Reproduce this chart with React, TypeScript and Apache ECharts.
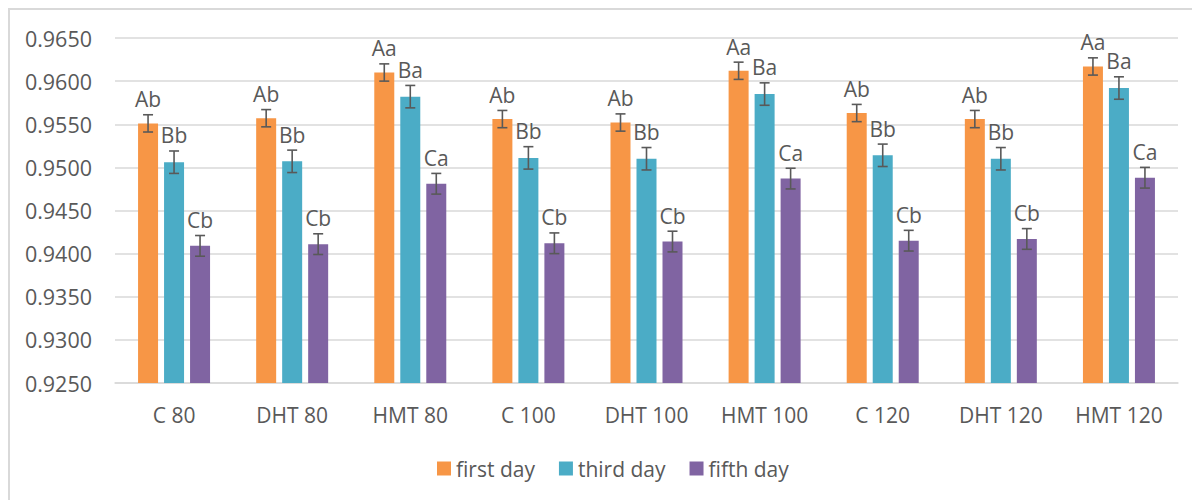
import React, { useEffect, useRef } from "react";
import * as echarts from "echarts";

const categories = ["C 80", "DHT 80", "HMT 80", "C 100", "DHT 100", "HMT 100", "C 120", "DHT 120", "HMT 120"];
const seriesNames = ["first day", "third day", "fifth day"];
const firstDay = [0.9551, 0.9557, 0.9610, 0.9556, 0.9552, 0.9612, 0.9563, 0.9556, 0.9617];
const thirdDay = [0.9506, 0.9507, 0.9582, 0.9511, 0.9510, 0.9585, 0.9514, 0.9510, 0.9592];
const fifthDay = [0.9409, 0.9411, 0.9481, 0.9412, 0.9414, 0.9487, 0.9415, 0.9417, 0.9488];
const firstErr = [0.0010, 0.0010, 0.0010, 0.0010, 0.0010, 0.0010, 0.0010, 0.0010, 0.0010];
const thirdErr = [0.0013, 0.0013, 0.0013, 0.0013, 0.0013, 0.0013, 0.0013, 0.0013, 0.0013];
const fifthErr = [0.0012, 0.0012, 0.0012, 0.0012, 0.0012, 0.0012, 0.0012, 0.0012, 0.0012];
const firstLabels = ["Ab", "Ab", "Aa", "Ab", "Ab", "Aa", "Ab", "Ab", "Aa"];
const thirdLabels = ["Bb", "Bb", "Ba", "Bb", "Bb", "Ba", "Bb", "Bb", "Ba"];
const fifthLabels = ["Cb", "Cb", "Ca", "Cb", "Cb", "Ca", "Cb", "Cb", "Ca"];

const colors = ["#F79646", "#4BACC6", "#8064A2"];
const FONT = "'Open Sans', 'Noto Sans', sans-serif";
const TXT = "#595959";

export default function App() {
  const ref = useRef<HTMLDivElement>(null);
  useEffect(() => {
    if (!ref.current) return;
    const chart = echarts.init(ref.current, undefined, { renderer: "svg" });
    const values = [firstDay, thirdDay, fifthDay];
    const errs = [firstErr, thirdErr, fifthErr];
    const labels = [firstLabels, thirdLabels, fifthLabels];
    const BW = 20;
    const GAP = 6;

    const barSeries = values.map((v, s) => ({
      name: seriesNames[s],
      type: "bar",
      data: v,
      barWidth: BW,
      barGap: "30%",
      itemStyle: { color: colors[s] },
      z: 2,
    }));

    const errSeries = values.map((v, s) => ({
      name: "err" + s,
      type: "custom",
      z: 5,
      data: v.map((val, i) => [i, val, errs[s][i]]),
      encode: { x: 0, y: 1 },
      renderItem: (params: any, api: any) => {
        const idx = api.value(0);
        const val = api.value(1);
        const e = api.value(2);
        const offset = (s - 1) * (BW + GAP);
        const x = api.coord([idx, val])[0] + offset;
        const yTop = api.coord([idx, val + e])[1];
        const yBot = api.coord([idx, val - e])[1];
        const st = { stroke: "#595959", lineWidth: 1.6 };
        return {
          type: "group",
          children: [
            { type: "line", shape: { x1: x, y1: yTop, x2: x, y2: yBot }, style: st },
            { type: "line", shape: { x1: x - 5, y1: yTop, x2: x + 5, y2: yTop }, style: st },
            { type: "line", shape: { x1: x - 5, y1: yBot, x2: x + 5, y2: yBot }, style: st },
            {
              type: "text",
              x: x,
              y: yTop - 5,
              style: {
                text: labels[s][params.dataIndex],
                fill: TXT,
                font: `21px ${FONT}`,
                align: "center",
                verticalAlign: "bottom",
              },
            },
          ],
        };
      },
    }));

    chart.setOption({
      animation: false,
      textStyle: { fontFamily: FONT },
      grid: { left: 107, right: 22, top: 30, bottom: 117 },
      graphic: [
        { type: "line", shape: { x1: 1, y1: 0, x2: 1, y2: 492 }, style: { stroke: "#d9d9d9", lineWidth: 2 } },
        { type: "line", shape: { x1: 0, y1: 1, x2: 1192, y2: 1 }, style: { stroke: "#d9d9d9", lineWidth: 2 } },
      ],
      legend: {
        data: seriesNames,
        left: 424,
        top: 445,
        itemWidth: 14,
        itemHeight: 14,
        itemGap: 24,
        icon: "rect",
        textStyle: { color: TXT, fontSize: 21, fontFamily: FONT },
      },
      xAxis: {
        type: "category",
        data: categories,
        axisLine: { lineStyle: { color: "#d9d9d9", width: 1.5 } },
        axisTick: { show: false },
        axisLabel: { color: TXT, fontSize: 21, fontFamily: FONT, margin: 21 },
      },
      yAxis: {
        type: "value",
        min: 0.925,
        max: 0.965,
        interval: 0.005,
        axisLine: { show: false },
        axisTick: { show: false },
        splitLine: { lineStyle: { color: "#d9d9d9", width: 1.5 } },
        axisLabel: {
          color: TXT,
          fontSize: 21.5,
          fontFamily: FONT,
          margin: 23,
          formatter: (v: number) => v.toFixed(4),
        },
      },
      series: [...barSeries, ...errSeries],
    });
    return () => chart.dispose();
  }, []);

  return <div ref={ref} style={{ width: 1192, height: 492 }} />;
}
